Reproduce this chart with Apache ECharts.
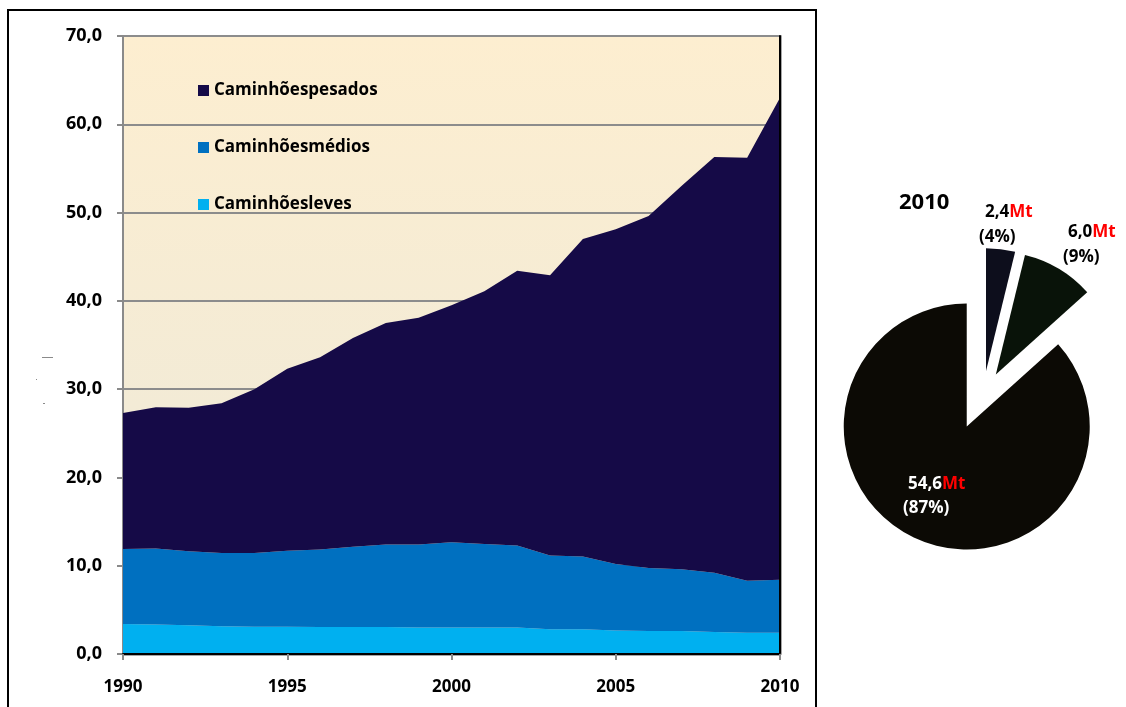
<!DOCTYPE html>
<html>
<head>
<meta charset="utf-8">
<script src="https://cdn.jsdelivr.net/npm/echarts@6/dist/echarts.min.js"></script>
<style>
  html, body { margin: 0; padding: 0; background: #ffffff; }
  #chart { width: 1126px; height: 707px; }
</style>
</head>
<body>
<div id="chart"></div>
<script>
// Emissões por categoria de caminhão (Mt), 1990–2010
const years = ['1990','1991','1992','1993','1994','1995','1996','1997','1998','1999','2000',
               '2001','2002','2003','2004','2005','2006','2007','2008','2009','2010'];
const leves   = [3.4, 3.35, 3.25, 3.15, 3.1, 3.1, 3.05, 3.05, 3.05, 3.0, 3.0,
                 3.0, 3.0, 2.8, 2.8, 2.65, 2.6, 2.6, 2.5, 2.4, 2.4];
const medios  = [8.5, 8.6, 8.4, 8.3, 8.35, 8.6, 8.8, 9.1, 9.35, 9.4, 9.65,
                 9.45, 9.3, 8.35, 8.25, 7.55, 7.15, 7.0, 6.7, 5.9, 6.0];
const pesados = [15.4, 16.0, 16.25, 16.95, 18.55, 20.6, 21.75, 23.65, 25.1, 25.7, 26.85,
                 28.65, 31.1, 31.75, 35.95, 37.9, 39.85, 43.4, 47.1, 47.9, 54.6];
const seriesNames = ['Caminhõesleves', 'Caminhõesmédios', 'Caminhõespesados'];
const yTicks = [0, 10, 20, 30, 40, 50, 60, 70];

// Pizza de 2010 (sentido horário a partir das 12h)
const pieYear = '2010';
const pieValues = [2.4, 6.0, 54.6];
const piePct = ['4%', '9%', '87%'];

const FONT = '"Open Sans", Lato, sans-serif';
const colors = ['#00b0f0', '#0070c0', '#150a47'];
const pieColors = ['#0d0e1c', '#091309', '#0c0a05'];
const fmt = v => v.toFixed(1).replace('.', ',');

const chart = echarts.init(document.getElementById('chart'), null, { renderer: 'canvas' });

const stackData = [leves, medios, pesados];
const areaSeries = seriesNames.map((name, i) => ({
  name: name,
  type: 'line',
  stack: 'total',
  data: stackData[i],
  color: colors[i],
  symbol: 'none',
  smooth: false,
  lineStyle: { width: 0 },
  areaStyle: { color: colors[i], opacity: 1 },
  emphasis: { disabled: true },
  z: 2
}));

// Fatias da pizza: as pequenas e a grande com afastamentos diferentes
function pieData(visible) {
  return pieValues.map((v, i) => ({
    value: v,
    selected: visible.includes(i),
    itemStyle: { color: visible.includes(i) ? pieColors[i] : 'rgba(0,0,0,0)' }
  }));
}
const pieBase = {
  type: 'pie',
  radius: [0, 123],
  startAngle: 90,
  clockwise: true,
  selectedMode: 'multiple',
  label: { show: false },
  labelLine: { show: false },
  emphasis: { disabled: true },
  silent: true,
  animation: false
};

// Rótulos da pizza
const pieLabelPos = [
  { v: [985, 213], p: [979, 238], dark: true },
  { v: [1068, 233], p: [1063, 258], dark: true },
  { v: [908, 485], p: [903, 509], dark: false }
];
const pieLabels = [];
pieValues.forEach((v, i) => {
  const pos = pieLabelPos[i];
  const c = pos.dark ? '#000000' : '#ffffff';
  pieLabels.push({
    type: 'text', left: pos.v[0], top: pos.v[1] - 9, z: 20,
    style: {
      text: '{n|' + fmt(v) + '}{u|Mt}',
      rich: {
        n: { fill: c, font: 'bold 17px ' + FONT },
        u: { fill: '#ff0000', font: 'bold 17px ' + FONT }
      }
    }
  });
  pieLabels.push({
    type: 'text', left: pos.p[0], top: pos.p[1] - 9, z: 20,
    style: { text: '(' + piePct[i] + ')', fill: c, font: 'bold 17px ' + FONT }
  });
});

const option = {
  animation: false,
  backgroundColor: '#ffffff',
  textStyle: { fontFamily: FONT },
  grid: {
    left: 123, top: 36, right: 346, bottom: 53,
    show: true,
    borderWidth: 0,
    backgroundColor: {
      type: 'linear', x: 0, y: 0, x2: 0, y2: 1,
      colorStops: [
        { offset: 0, color: '#fdeed0' },
        { offset: 0.6, color: '#f3ebd6' },
        { offset: 1, color: '#ece7dd' }
      ]
    }
  },
  legend: {
    data: seriesNames.slice().reverse(),
    orient: 'vertical',
    left: 193, top: 75,
    icon: 'rect',
    itemWidth: 11, itemHeight: 11,
    itemGap: 36,
    selectedMode: false,
    textStyle: { fontFamily: FONT, fontWeight: 'bold', fontSize: 17, color: '#000000', lineHeight: 21 }
  },
  xAxis: [{
    type: 'category',
    data: years,
    boundaryGap: false,
    axisLine: { lineStyle: { color: '#8a8a8a', width: 2 } },
    axisTick: { show: true, interval: 4, length: 6, lineStyle: { color: '#8a8a8a', width: 2 } },
    axisLabel: { interval: 4, margin: 25, color: '#000000', fontFamily: FONT, fontWeight: 'bold', fontSize: 17 },
    splitLine: { show: false },
    z: 5
  }, {
    type: 'category',
    data: years,
    position: 'top',
    boundaryGap: false,
    axisLine: { lineStyle: { color: '#000000', width: 2, shadowColor: 'rgba(0,0,0,0.35)', shadowOffsetY: 1 } },
    axisTick: { show: false },
    axisLabel: { show: false },
    splitLine: { show: false },
    z: 5
  }],
  yAxis: [{
    type: 'value',
    min: 0, max: 70, interval: 10,
    axisLine: { show: true, lineStyle: { color: '#8a8a8a', width: 2 } },
    axisTick: { show: true, length: 6, lineStyle: { color: '#8a8a8a', width: 2 } },
    axisLabel: {
      margin: 21, color: '#000000', fontFamily: FONT, fontWeight: 'bold', fontSize: 18,
      formatter: v => yTicks.includes(v) ? fmt(v) : ''
    },
    splitLine: { show: true, lineStyle: { color: '#8c8c8c', width: 2 } },
    z: 1
  }, {
    type: 'value',
    min: 0, max: 70, interval: 10,
    position: 'right',
    axisLine: { show: true, lineStyle: { color: '#000000', width: 2, shadowColor: 'rgba(0,0,0,0.35)', shadowOffsetX: 1 } },
    axisTick: { show: false },
    axisLabel: { show: false },
    splitLine: { show: false },
    z: 5
  }],
  series: areaSeries.concat([
    Object.assign({}, pieBase, { center: [983, 396], selectedOffset: 25, data: pieData([0, 1]) }),
    Object.assign({}, pieBase, { center: [983, 390], selectedOffset: 40, data: pieData([2]) })
  ]),
  graphic: [
    {
      type: 'rect', z: 10, silent: true,
      shape: { x: 8, y: 10, width: 808, height: 720 },
      style: { fill: null, stroke: '#000000', lineWidth: 2 }
    },
    { type: 'rect', z: 10, silent: true, shape: { x: 42, y: 357, width: 11, height: 1 }, style: { fill: '#8a8a8a' } },
    { type: 'rect', z: 10, silent: true, shape: { x: 36, y: 379, width: 1, height: 1 }, style: { fill: '#8a8a8a' } },
    { type: 'rect', z: 10, silent: true, shape: { x: 43, y: 403, width: 2, height: 1 }, style: { fill: '#8a8a8a' } },
    {
      type: 'text', left: 899, top: 192, z: 20,
      style: { text: pieYear, fill: '#000000', font: 'bold 22px ' + FONT }
    }
  ].concat(pieLabels)
};

chart.setOption(option);
</script>
</body>
</html>
